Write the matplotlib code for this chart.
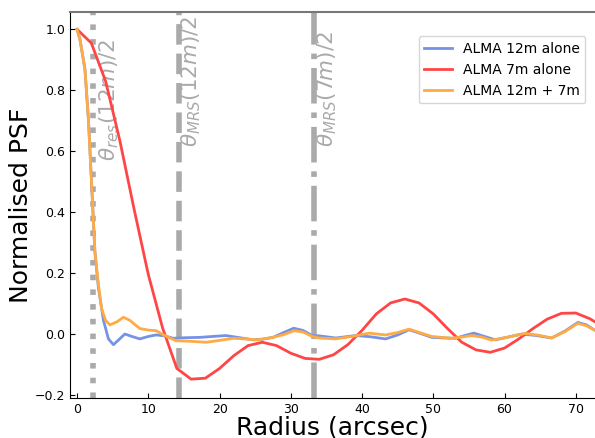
import matplotlib
matplotlib.use("Agg")
import matplotlib.pyplot as plt

# ALMA 12m alone
r_12m = [0, 0.4, 1.1, 1.6, 2.05, 2.5, 3.0, 3.7, 4.4, 5.1, 5.8, 6.7, 7.7, 8.8, 10.0, 11.1, 12.3, 13.5, 15.3, 17.2, 19.0, 20.9, 22.8, 24.7, 26.0, 27.5, 29.0, 30.4, 31.7, 33.0, 34.0, 36.3, 39.1, 41.2, 43.3, 45.0, 46.6, 48.2, 49.8, 51.5, 53.1, 54.4, 55.7, 57.2, 58.7, 60.5, 62.4, 64.5, 66.6, 68.5, 70.3, 71.5, 72.7]
psf_12m = [1.0, 0.967, 0.87, 0.70, 0.486, 0.27, 0.15, 0.045, -0.016, -0.035, -0.02, 0.0, -0.008, -0.016, -0.008, -0.003, -0.006, -0.014, -0.012, -0.011, -0.008, -0.005, -0.012, -0.019, -0.017, -0.011, 0.005, 0.019, 0.012, -0.005, -0.006, -0.013, -0.005, -0.009, -0.016, -0.003, 0.014, 0.002, -0.011, -0.013, -0.014, -0.005, 0.003, -0.008, -0.019, -0.01, 0.0, -0.005, -0.013, 0.01, 0.038, 0.03, 0.012]

# ALMA 7m alone
r_7m = [0, 2, 4, 6, 8, 10, 12, 14, 16, 18, 20, 22, 24, 26, 28, 30, 32, 34, 36, 38, 40, 42, 44, 46, 48, 50, 52, 54, 56, 58, 60, 62, 64, 66, 68, 70, 72, 72.7]
psf_7m = [1.0, 0.955, 0.83, 0.635, 0.41, 0.195, 0.02, -0.113, -0.148, -0.145, -0.113, -0.071, -0.038, -0.027, -0.038, -0.063, -0.08, -0.083, -0.068, -0.035, 0.012, 0.066, 0.102, 0.115, 0.102, 0.066, 0.018, -0.027, -0.052, -0.06, -0.046, -0.016, 0.018, 0.049, 0.068, 0.069, 0.05, 0.04]

# ALMA 12m + 7m
r_comb = [0, 0.4, 1.1, 1.6, 2.05, 2.5, 3.0, 3.45, 4.0, 4.6, 5.6, 6.5, 7.4, 8.8, 10.0, 11.1, 12.3, 13.9, 16.0, 18.1, 20.0, 21.9, 23.5, 25.3, 27.5, 29.0, 30.5, 31.8, 33.0, 34.0, 36.3, 38.6, 41.0, 43.3, 45.0, 46.6, 48.2, 49.8, 51.2, 52.6, 54.0, 55.4, 56.8, 58.2, 60.5, 62.9, 64.8, 66.6, 68.5, 70.3, 71.5, 72.7]
psf_comb = [1.0, 0.967, 0.87, 0.70, 0.486, 0.27, 0.16, 0.082, 0.045, 0.03, 0.04, 0.055, 0.045, 0.018, 0.013, 0.011, -0.005, -0.022, -0.024, -0.027, -0.021, -0.014, -0.016, -0.019, -0.011, -0.002, 0.011, 0.006, -0.008, -0.013, -0.016, -0.008, 0.003, -0.003, 0.005, 0.016, 0.004, -0.008, -0.011, -0.014, -0.01, -0.005, -0.01, -0.02, -0.01, 0.002, -0.004, -0.013, 0.008, 0.035, 0.027, 0.012]

labels = ["ALMA 12m alone", "ALMA 7m alone", "ALMA 12m + 7m"]
colors = ["#7593e6", "#ff4646", "#ffab45"]

# characteristic scales (arcsec)
vline_x = [2.2, 14.3, 33.3]
vline_styles = [":", "--", "-."]
vline_texts = [r"$\theta_{res}(12m)/2$", r"$\theta_{MRS}(12m)/2$", r"$\theta_{MRS}(7m)/2$"]
text_x = [4.5, 16.0, 35.1]
text_y = [0.567, 0.613, 0.613]

fig = plt.figure(figsize=(5.95, 4.38), dpi=100)
ax = fig.add_axes([0.1176, 0.0913, 0.8824, 0.8813])

for xv, ls in zip(vline_x, vline_styles):
    ax.axvline(xv, color="#aaaaaa", lw=4, ls=ls, zorder=1)
for tx, ty, t in zip(text_x, text_y, vline_texts):
    ax.text(tx, ty, t, rotation=90, va="bottom", ha="center", color="#aaaaaa", fontsize=15.5)

ax.plot(r_12m, psf_12m, color=colors[0], lw=2, label=labels[0], zorder=3)
ax.plot(r_7m, psf_7m, color=colors[1], lw=2, label=labels[1], zorder=3)
ax.plot(r_comb, psf_comb, color=colors[2], lw=2, label=labels[2], zorder=4)

ax.set_xlim(-1.0, 72.7)
ax.set_ylim(-0.21, 1.057)
ax.set_xticks([0, 10, 20, 30, 40, 50, 60, 70])
ax.set_yticks([-0.2, 0.0, 0.2, 0.4, 0.6, 0.8, 1.0])
ax.tick_params(direction="in", labelsize=9)
ax.spines["right"].set_visible(False)
ax.spines["top"].set_color("#777777")
ax.spines["top"].set_linewidth(1.5)

ax.set_xlabel("Radius (arcsec)", fontsize=18, labelpad=0)
ax.set_ylabel("Normalised PSF", fontsize=18, labelpad=1)

ax.legend(loc="upper right", bbox_to_anchor=(0.995, 0.955), fontsize=10)

fig.savefig("out.png", dpi=100)
